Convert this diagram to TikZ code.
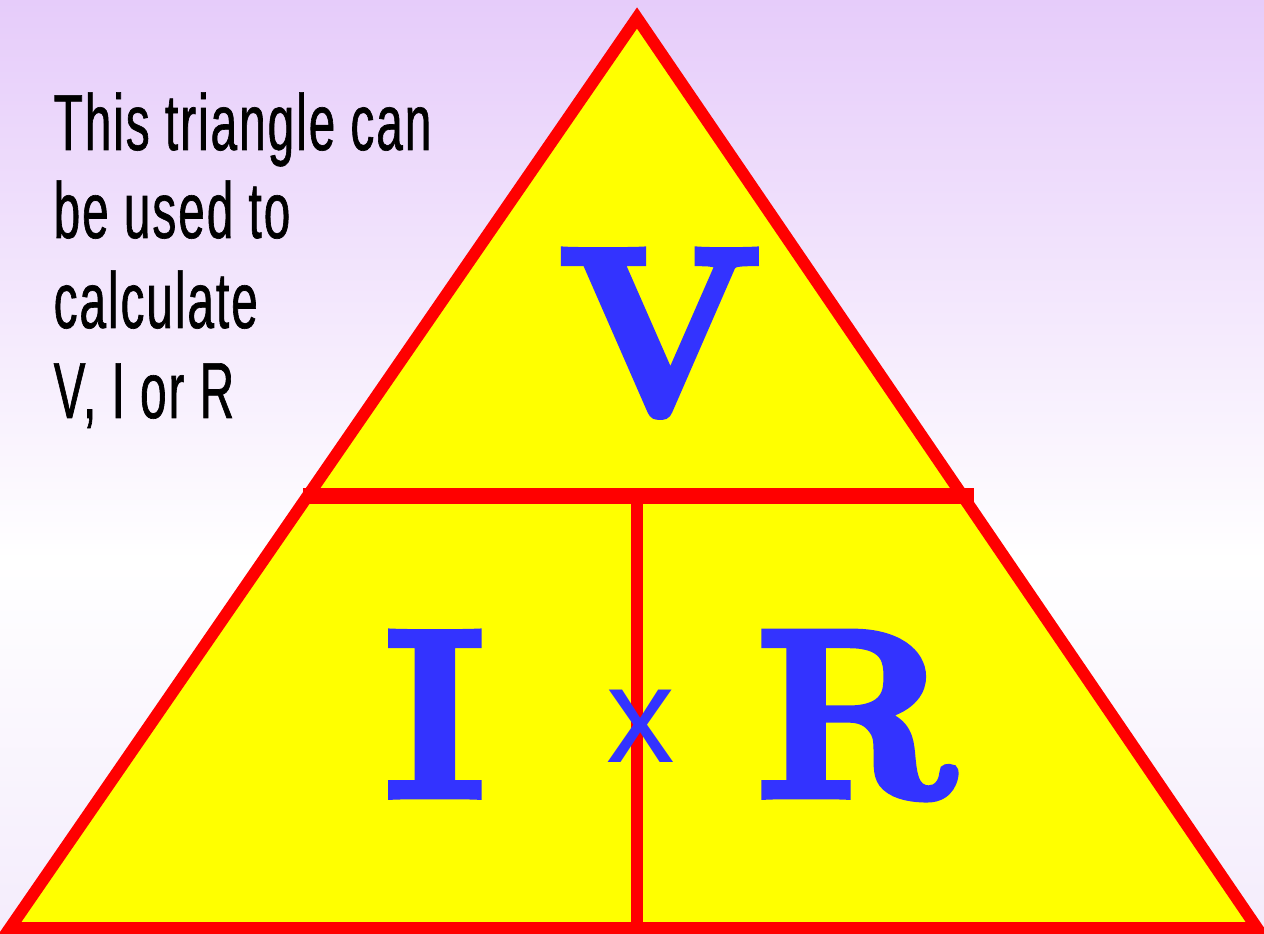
\documentclass[tikz,border=0pt]{standalone}
\usepackage{fontspec}
\usepackage{xcolor}
\newfontfamily\slimfont[FakeStretch=0.6,LetterSpace=2.5,FakeBold=0.8]{Liberation Sans}
\newfontfamily\timesfont{Liberation Sans}
\newfontfamily\heavyfont[BoldFeatures={FakeBold=4}]{Latin Modern Roman}
\definecolor{bgtop}{RGB}{230,204,250}
\definecolor{bgbot}{RGB}{244,236,252}
\definecolor{letterblue}{RGB}{51,51,255}
\definecolor{boxyellow}{RGB}{255,255,0}
\tikzset{
  side/.style={red,line width=0.12cm},
  letter/.style={inner sep=0pt,anchor=base,text=letterblue,font=\heavyfont\bfseries\fontsize{67}{67}\selectfont},
  note/.style={inner sep=0pt,anchor=base west,font=\slimfont\fontsize{22.6}{25}\selectfont}
}
\begin{document}
\begin{tikzpicture}[x=0.01cm,y=-0.01cm]
      \useasboundingbox (0,0) rectangle (1264,934);
      \shade[top color=bgtop,bottom color=white] (0,0) rectangle (1264,560);
      \shade[top color=white,bottom color=bgbot] (0,560) rectangle (1264,934);
      \coordinate (T) at (637,18);
      \coordinate (BL) at (10,928);
      \coordinate (BR) at (1257,928);
      \coordinate (ML) at (303,496);
      \coordinate (MR) at (974,496);
      \coordinate (MM) at (637,496);
      \coordinate (BM) at (637,928);
      \fill[boxyellow] (T) -- (BR) -- (BL) -- cycle;
      \draw[side,line width=0.15cm] (ML) -- (MR);
      \draw[side] (MM) -- (BM);
      \draw[side,line join=miter] (T) -- (BR) -- (BL) -- cycle;
      \node[note] (l1) at (53,150) {This triangle can};
      \node[note] (l2) at (53,238) {be used to};
      \node[note] (l3) at (53,328) {calculate};
      \node[note] (l4) at (53,418) {V, I or R};
      \node[letter] (V) at (660,413) {V};
      \node[letter] (I) at (435,795) {I};
      \node[letter] (R) at (856,795) {R};
      \node[letter,font=\timesfont\fontsize{39}{39}\selectfont] (X) at (641,762) {x};
    \end{tikzpicture}
\end{document}
